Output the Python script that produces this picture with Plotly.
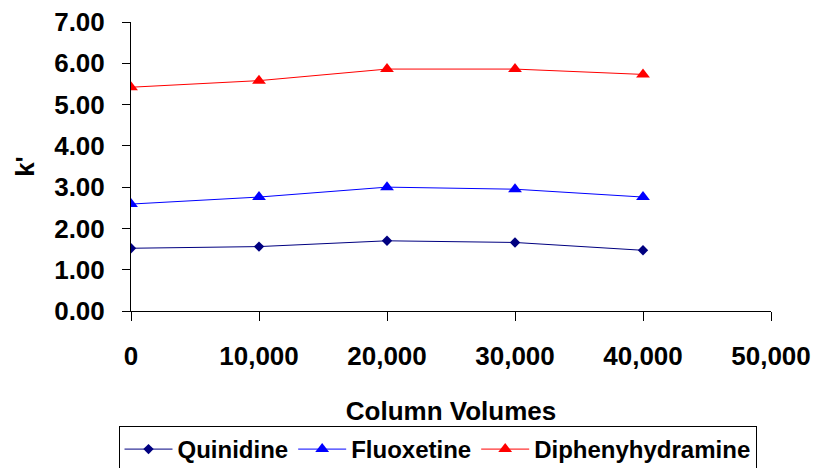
import plotly.graph_objects as go

column_volumes = [0, 10000, 20000, 30000, 40000]
quinidine = [1.52, 1.56, 1.70, 1.66, 1.47]
fluoxetine = [2.59, 2.76, 3.00, 2.95, 2.76]
diphenhydramine = [5.42, 5.58, 5.86, 5.86, 5.73]

x_ticks = [0, 10000, 20000, 30000, 40000, 50000]
x_tick_labels = ["0", "10,000", "20,000", "30,000", "40,000", "50,000"]
y_ticks = [0, 1, 2, 3, 4, 5, 6, 7]
y_tick_labels = ["0.00", "1.00", "2.00", "3.00", "4.00", "5.00", "6.00", "7.00"]

font_family = "Liberation Sans, Arial, sans-serif"
bold26 = dict(family=font_family, size=26, color="black", weight="bold")

fig = go.Figure()
fig.add_trace(go.Scatter(
    x=column_volumes, y=quinidine, name="Quinidine", mode="lines+markers",
    line=dict(color="#000080", width=1),
    marker=dict(symbol="diamond", size=8, color="#000080"),
))
fig.add_trace(go.Scatter(
    x=column_volumes, y=fluoxetine, name="Fluoxetine", mode="lines+markers",
    line=dict(color="#0000FF", width=1),
    marker=dict(symbol="triangle-up", size=12, color="#0000FF"),
))
fig.add_trace(go.Scatter(
    x=column_volumes, y=diphenhydramine, name="Diphenyhydramine", mode="lines+markers",
    line=dict(color="#FF0000", width=1),
    marker=dict(symbol="triangle-up", size=12, color="#FF0000"),
))

fig.update_layout(
    width=817, height=468,
    margin=dict(l=131, r=46, t=22, b=157, autoexpand=False),
    plot_bgcolor="white", paper_bgcolor="white",
    font=dict(family=font_family, size=24, color="black"),
    showlegend=True,
    legend=dict(
        orientation="h", xref="container", yref="container",
        x=437.5 / 817, y=1 - 426 / 468, xanchor="center", yanchor="top",
        bordercolor="black", borderwidth=1, bgcolor="white",
        font=dict(family=font_family, size=24, color="black", weight="bold"),
        itemwidth=48, tracegroupgap=0,
    ),
)
fig.update_xaxes(
    range=[0, 50000], tickvals=x_ticks, ticktext=x_tick_labels,
    showgrid=False, zeroline=False, showline=True, linecolor="black", linewidth=1,
    ticks="outside", ticklen=9, tickcolor="black", ticklabelstandoff=13,
    tickfont=bold26, automargin=False,
    title=dict(text="Column Volumes", standoff=33, font=bold26),
)
fig.update_yaxes(
    range=[0, 7], tickvals=y_ticks, ticktext=y_tick_labels,
    showgrid=False, zeroline=False, showline=True, linecolor="black", linewidth=1,
    ticks="outside", ticklen=8, tickcolor="black", ticklabelstandoff=12,
    tickfont=bold26, automargin=False,
    title=dict(text="k'", standoff=12, font=bold26),
)

fig.write_html("out.html")
